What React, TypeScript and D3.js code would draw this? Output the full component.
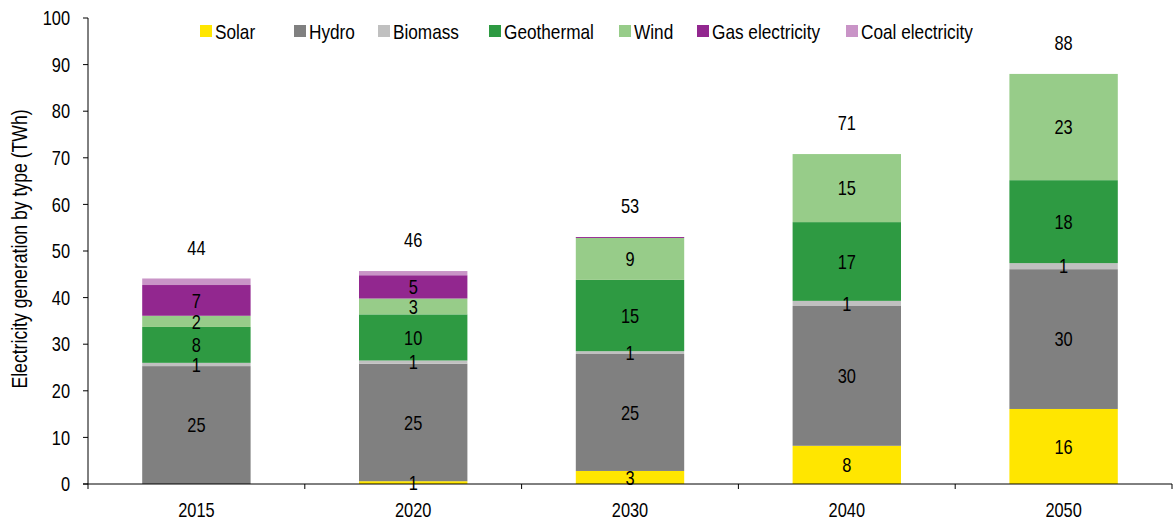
import React, { useEffect } from "react";
import * as d3 from "d3";

const years = ["2015", "2020", "2030", "2040", "2050"];
const seriesNames = ["Solar", "Hydro", "Biomass", "Geothermal", "Wind", "Gas electricity", "Coal electricity"];
const seriesColors = ["#FFE600", "#808080", "#C0C0C0", "#2E9A42", "#97CC89", "#92278F", "#C994C7"];
// which series carry value labels inside their segments
const seriesLabelled = [true, true, true, true, true, true, false];

const solar = [0, 0.6, 2.8, 8.2, 16.1];
const hydro = [25.3, 25.2, 25.1, 30.0, 30.0];
const biomass = [0.7, 0.7, 0.6, 1.1, 1.3];
const geothermal = [7.7, 9.9, 15.3, 16.9, 17.8];
const wind = [2.4, 3.4, 9.0, 14.6, 22.8];
const gas = [6.6, 5.0, 0.2, 0, 0];
const coal = [1.4, 0.9, 0, 0, 0];

const yTicks = [0, 10, 20, 30, 40, 50, 60, 70, 80, 90, 100];
const legendX = [200, 294, 378, 489, 619, 697, 846];

const W = 1173;
const H = 522;
const margin = { left: 88, right: 1, top: 18, bottom: 38 };
const FONT = "'Liberation Sans', Arial, sans-serif";
const FS = 20;
const NARROW = 0.82;

// condensed text: horizontally squeezed sans, anchored at (x, y)
function NText(props: {
  x: number;
  y: number;
  anchor?: "start" | "middle" | "end";
  rotate?: number;
  size?: number;
  children: React.ReactNode;
}) {
  const { x, y, anchor = "start", rotate = 0, size = FS, children } = props;
  return (
    <text
      transform={`translate(${x},${y}) rotate(${rotate}) scale(${NARROW},1)`}
      dy="0.36em"
      textAnchor={anchor}
      fontSize={size}
      fill="#000"
    >
      {children}
    </text>
  );
}

export default function App() {
  useEffect(() => {
    document.body.style.margin = "0";
  }, []);

  const seriesValues = [solar, hydro, biomass, geothermal, wind, gas, coal];
  const rows = years.map((yr, i) => {
    const r: Record<string, any> = { year: yr };
    seriesNames.forEach((s, k) => (r[s] = seriesValues[k][i]));
    return r;
  });
  const stacked = d3.stack<any>().keys(seriesNames)(rows);
  const totals = years.map((_, i) => d3.sum(seriesValues, (v) => v[i]));

  const x = d3
    .scaleBand()
    .domain(years)
    .range([margin.left, W - margin.right])
    .paddingInner(0.5)
    .paddingOuter(0.25);
  const y = d3.scaleLinear().domain([0, 100]).range([H - margin.bottom, margin.top]);
  const step = x.step();
  const y0 = y(0);
  const fmt = d3.format(".0f");
  const cx = (yr: string) => (x(yr) as number) + x.bandwidth() / 2;

  return (
    <svg width={W} height={H} style={{ display: "block", fontFamily: FONT }}>
      {/* stacked bars */}
      {stacked.map((layer, k) => (
        <g key={layer.key} fill={seriesColors[k]}>
          {layer.map((d, i) =>
            d[1] - d[0] > 0 ? (
              <rect
                key={i}
                x={x(years[i])}
                width={x.bandwidth()}
                y={y(d[1])}
                height={y(d[0]) - y(d[1])}
              />
            ) : null
          )}
        </g>
      ))}
      {/* segment labels */}
      {stacked.map((layer, k) =>
        seriesLabelled[k]
          ? layer.map((d, i) => {
              const v = d[1] - d[0];
              if (Math.round(v) < 1) return null;
              return (
                <NText key={layer.key + i} x={cx(years[i])} y={y((d[0] + d[1]) / 2)} anchor="middle">
                  {fmt(v)}
                </NText>
              );
            })
          : null
      )}
      {/* totals */}
      {totals.map((t, i) => (
        <NText key={"t" + i} x={cx(years[i])} y={y(t) - 31} anchor="middle">
          {fmt(t)}
        </NText>
      ))}
      {/* y axis */}
      <line x1={margin.left} x2={margin.left} y1={y(100)} y2={y0} stroke="#000" strokeWidth={1} />
      {yTicks.map((t) => (
        <g key={"y" + t}>
          <line x1={margin.left - 5} x2={margin.left} y1={y(t)} y2={y(t)} stroke="#000" />
          <NText x={margin.left - 18} y={y(t)} anchor="end">
            {t}
          </NText>
        </g>
      ))}
      <NText x={19} y={(y(0) + y(100)) / 2 - 2} anchor="middle" rotate={-90} size={21.5}>
        Electricity generation by type (TWh)
      </NText>
      {/* x axis */}
      <line x1={margin.left - 5} x2={W - margin.right} y1={y0} y2={y0} stroke="#000" />
      {d3.range(years.length + 1).map((i) => {
        const xx = margin.left + i * step;
        return <line key={"xt" + i} x1={xx} x2={xx} y1={y0} y2={y0 + 5} stroke="#000" />;
      })}
      {years.map((yr) => (
        <NText key={"xl" + yr} x={cx(yr)} y={y0 + 26} anchor="middle">
          {yr}
        </NText>
      ))}
      {/* legend */}
      {seriesNames.map((s, k) => (
        <g key={"lg" + k} transform={`translate(${legendX[k]},31)`}>
          <rect x={0} y={-6} width={12} height={12} fill={seriesColors[k]} />
          <NText x={15} y={0} size={21}>
            {s}
          </NText>
        </g>
      ))}
    </svg>
  );
}
